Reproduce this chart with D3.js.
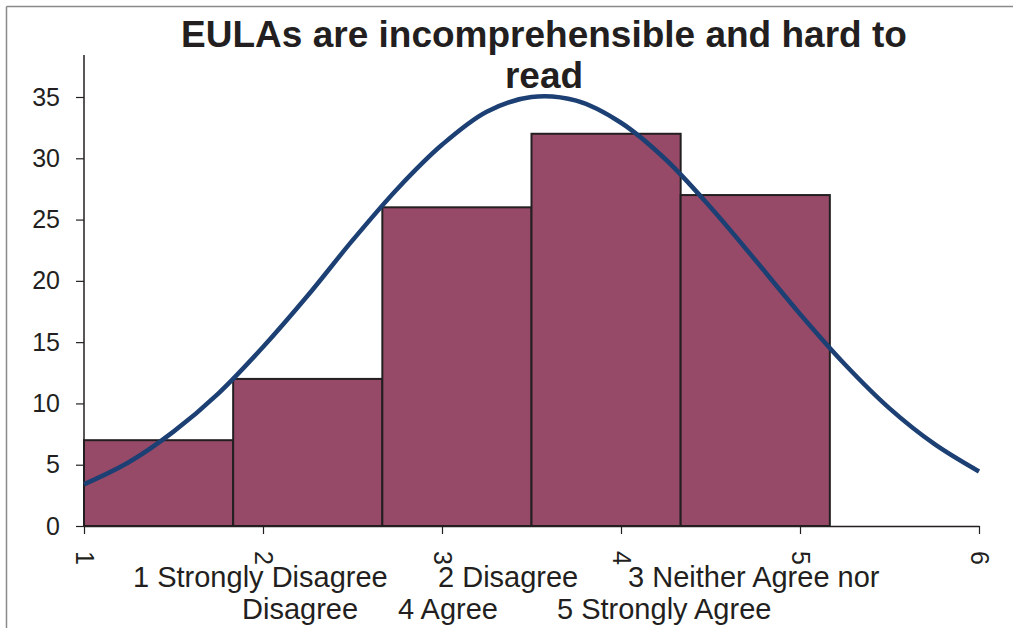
<!DOCTYPE html>
<html>
<head>
<meta charset="utf-8">
<script src="https://d3js.org/d3.v7.min.js"></script>
<style>
  body { margin: 0; background: #fff; }
  text { font-family: "Liberation Sans", Arial, sans-serif; fill: #231f20; }
</style>
</head>
<body>
<svg id="chart" width="1013" height="628"></svg>
<script>
// histogram bins (left/right edges) and counts
var binEdges = [1, 1.8333, 2.6667, 3.5, 4.3333, 5.1667];
var counts = [7, 12, 26, 32, 27];

// fitted normal curve
var curveX = [1, 1.25, 1.5, 1.75, 2, 2.25, 2.5, 2.75, 3, 3.25, 3.5, 3.75, 4, 4.25, 4.5, 4.75, 5, 5.25, 5.5, 5.75, 6];
var curveY = [3.4, 5.2, 7.7, 10.8, 14.6, 18.8, 23.3, 27.5, 31.1, 33.8, 35.0, 34.7, 32.9, 29.9, 26.0, 21.7, 17.3, 13.2, 9.6, 6.7, 4.45];

var xTicks = [1, 2, 3, 4, 5, 6];
var yTicks = [0, 5, 10, 15, 20, 25, 30, 35];

var titleLines = ["EULAs are incomprehensible and hard to", "read"];
var xLabelLine1 = [["1 Strongly Disagree", 133], ["2 Disagree", 438], ["3 Neither Agree nor", 628]];
var xLabelLine2 = [["Disagree", 242], ["4 Agree", 398], ["5 Strongly Agree", 557]];

var svg = d3.select("#chart");

// outer frame (top and left edges visible)
svg.append("line").attr("x1", 6.5).attr("y1", 6.5).attr("x2", 1013).attr("y2", 6.5)
    .attr("stroke", "#8a8a8a").attr("stroke-width", 1.5);
svg.append("line").attr("x1", 6.5).attr("y1", 6.5).attr("x2", 6.5).attr("y2", 628)
    .attr("stroke", "#8a8a8a").attr("stroke-width", 1.5);

var plotLeft = 84, plotRight = 979, plotBottom = 526, plotTop = 55;

var xScale = d3.scaleLinear().domain([1, 6]).range([plotLeft, plotRight]);
var yScale = d3.scaleLinear().domain([0, 35]).range([plotBottom, 97]);

// bars
svg.selectAll(".bar")
    .data(counts)
    .enter().append("rect")
    .attr("class", "bar")
    .attr("x", function(d, i) { return xScale(binEdges[i]); })
    .attr("y", function(d) { return yScale(d); })
    .attr("width", function(d, i) { return xScale(binEdges[i + 1]) - xScale(binEdges[i]); })
    .attr("height", function(d) { return plotBottom - yScale(d); })
    .attr("fill", "#974a68")
    .attr("stroke", "#231f20")
    .attr("stroke-width", 2);

// y axis
var yAxis = svg.append("g")
    .attr("transform", "translate(" + plotLeft + ",0)")
    .call(d3.axisLeft(yScale).tickValues(yTicks).tickSize(8).tickSizeOuter(0).tickPadding(16));
yAxis.select(".domain").remove();
yAxis.append("line").attr("x1", 0).attr("x2", 0).attr("y1", plotTop).attr("y2", plotBottom)
    .attr("stroke", "#231f20").attr("stroke-width", 1.5);
yAxis.selectAll(".tick line").attr("stroke", "#231f20").attr("stroke-width", 1.2);
yAxis.selectAll(".tick text")
    .style("font-size", "25px")
    .style("font-family", "'Liberation Sans', Arial, sans-serif")
    .attr("fill", "#231f20");

// x axis
var xAxis = svg.append("g")
    .attr("transform", "translate(0," + plotBottom + ")")
    .call(d3.axisBottom(xScale).tickValues(xTicks).tickFormat(d3.format("d")).tickSize(8).tickSizeOuter(0));
xAxis.select(".domain").attr("stroke", "#231f20").attr("stroke-width", 1.3);
xAxis.selectAll(".tick line").attr("stroke", "#231f20").attr("stroke-width", 1.2);
xAxis.selectAll(".tick text")
    .style("font-size", "25px")
    .style("font-family", "'Liberation Sans', Arial, sans-serif")
    .attr("fill", "#231f20")
    .attr("text-anchor", "start")
    .attr("dominant-baseline", "central")
    .attr("dy", null)
    .attr("x", 0)
    .attr("y", 0)
    .attr("transform", "translate(0,25) rotate(90)");

// normal curve
var line = d3.line()
    .x(function(d, i) { return xScale(curveX[i]); })
    .y(function(d) { return yScale(d); })
    .curve(d3.curveCatmullRom);
svg.append("path")
    .datum(curveY)
    .attr("d", line)
    .attr("fill", "none")
    .attr("stroke", "#1c3f74")
    .attr("stroke-width", 4.5);

// title
svg.selectAll(".title")
    .data(titleLines)
    .enter().append("text")
    .attr("class", "title")
    .attr("x", 544)
    .attr("y", function(d, i) { return 47 + i * 41; })
    .attr("text-anchor", "middle")
    .style("font-size", "37px")
    .style("font-weight", "bold")
    .text(function(d) { return d; });

// category legend under the axis
svg.selectAll(".xl1")
    .data(xLabelLine1)
    .enter().append("text")
    .attr("x", function(d) { return d[1]; })
    .attr("y", 587)
    .style("font-size", "29px")
    .text(function(d) { return d[0]; });
svg.selectAll(".xl2")
    .data(xLabelLine2)
    .enter().append("text")
    .attr("x", function(d) { return d[1]; })
    .attr("y", 619)
    .style("font-size", "29px")
    .text(function(d) { return d[0]; });
</script>
</body>
</html>
